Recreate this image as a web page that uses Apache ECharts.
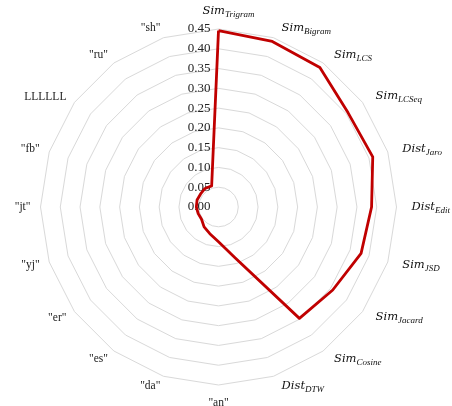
<!DOCTYPE html>
<html>
<head>
<meta charset="utf-8">
<script src="https://cdn.jsdelivr.net/npm/echarts@6/dist/echarts.min.js"></script>
<style>
  html, body { margin: 0; padding: 0; background: #fff; }
  #chart { width: 452px; height: 406px; }
</style>
</head>
<body>
<div id="chart"></div>
<script>
// Spoke names, clockwise from the top; "Base_Sub" is drawn with a subscript.
const indicatorNames = [
  'Sim_Trigram', 'Sim_Bigram', 'Sim_LCS', 'Sim_LCSeq', 'Dist_Jaro',
  'Dist_Edit', 'Sim_JSD', 'Sim_Jacard', 'Sim_Cosine', 'Dist_DTW',
  '"an"', '"da"', '"es"', '"er"', '"yj"',
  '"jt"', '"fb"', 'LLLLLL', '"ru"', '"sh"'
];

// Score for each spoke.
const scores = [
  0.446, 0.440, 0.436, 0.405, 0.410,
  0.387, 0.379, 0.357, 0.348, 0.135,
  0.088, 0.071, 0.062, 0.053, 0.054,
  0.056, 0.057, 0.056, 0.058, 0.056
];

// Radial scale.
const axisMin = 0;
const axisMax = 0.45;
const axisStep = 0.05;

// The radar lays spokes out counter-clockwise, so keep the first one on top
// and feed the rest in reverse to get a clockwise reading order.
const order = [0].concat(indicatorNames.map((_, i) => i).slice(1).reverse());

const chart = echarts.init(document.getElementById('chart'), null, { renderer: 'canvas' });

const indicators = order.map((idx, i) => {
  const ind = { name: indicatorNames[idx], min: axisMin, max: axisMax };
  if (i === 0) {
    ind.axisLabel = {
      show: true,
      fontFamily: 'Liberation Serif',
      fontSize: 13,
      color: '#222',
      margin: 8,
      formatter: v => Number(v).toFixed(2)
    };
  }
  return ind;
});

const ink = '#222';
const mathFont = 'DejaVu Serif';

chart.setOption({
  animation: false,
  backgroundColor: '#ffffff',
  radar: {
    center: [218.5, 207],
    radius: 178,
    startAngle: 90,
    shape: 'polygon',
    splitNumber: Math.round((axisMax - axisMin) / axisStep),
    indicator: indicators,
    nameGap: 10,
    axisName: {
      color: ink,
      fontFamily: 'Liberation Serif',
      fontSize: 11,
      formatter: function (name) {
        const k = name.indexOf('_');
        if (k < 0) return '{q|' + name + '}';
        // the top name sits centred on its spoke and needs a wider lead-in
        const lead = name === indicatorNames[0] ? 't' : 'm';
        return '{' + lead + '|' + name.slice(0, k) + '}{s|' + name.slice(k + 1) + '}';
      },
      rich: {
        q: { fontFamily: 'Liberation Serif', fontSize: 11.5, color: ink, lineHeight: 16, verticalAlign: 'middle' },
        m: { fontFamily: mathFont, fontStyle: 'italic', fontSize: 11.5, color: '#111', lineHeight: 16, verticalAlign: 'middle', padding: [0, 0, 0, 5] },
        t: { fontFamily: mathFont, fontStyle: 'italic', fontSize: 11.5, color: '#111', lineHeight: 16, verticalAlign: 'middle', padding: [0, 0, 0, 20] },
        s: { fontFamily: 'Liberation Serif', fontStyle: 'italic', fontSize: 9, color: '#111', lineHeight: 16, verticalAlign: 'bottom' }
      }
    },
    axisLine: { show: false },
    axisTick: { show: false },
    axisLabel: { show: false },
    splitLine: { lineStyle: { color: '#d9d9d9', width: 1 } },
    splitArea: { show: false }
  },
  series: [{
    type: 'radar',
    symbol: 'none',
    lineStyle: { color: '#c00000', width: 2.8 },
    itemStyle: { color: '#c00000' },
    data: [{ value: order.map(idx => scores[idx]) }]
  }]
});
</script>
</body>
</html>
